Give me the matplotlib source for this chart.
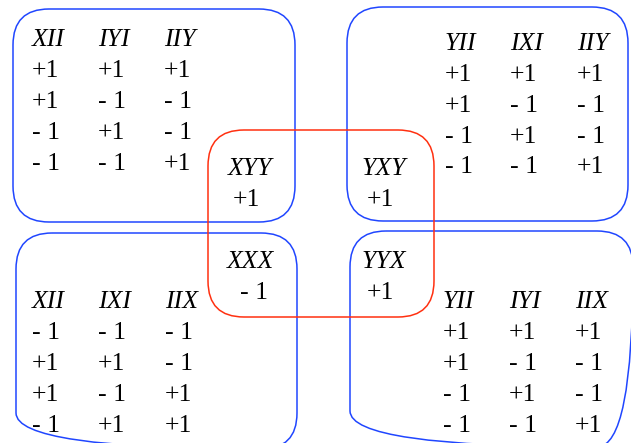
import matplotlib
matplotlib.use("Agg")
import matplotlib.pyplot as plt
from matplotlib.patches import FancyBboxPatch

# ---- data ----
tl_headers = ["XII", "IYI", "IIY"]
tl_values = [[+1, +1, +1], [+1, -1, -1], [-1, +1, -1], [-1, -1, +1]]
tr_headers = ["YII", "IXI", "IIY"]
tr_values = [[+1, +1, +1], [+1, -1, -1], [-1, +1, -1], [-1, -1, +1]]
bl_headers = ["XII", "IXI", "IIX"]
bl_values = [[-1, -1, -1], [+1, +1, -1], [+1, -1, +1], [-1, +1, +1]]
br_headers = ["YII", "IYI", "IIX"]
br_values = [[+1, +1, +1], [+1, -1, -1], [-1, +1, -1], [-1, -1, +1]]
center_ops = ["XYY", "YXY", "XXX", "YYX"]
center_vals = [+1, +1, -1, +1]

W, H = 631, 443
fig = plt.figure(figsize=(W / 100, H / 100), dpi=100)
ax = fig.add_axes([0, 0, 1, 1])
ax.set_xlim(0, W)
ax.set_ylim(H, 0)
ax.axis("off")

BLUE = "#2046ff"
RED = "#ff3010"
FONT = "Liberation Serif"
FS = 18.5


def fmt(v):
    return "+1" if v > 0 else "- 1"


def box(x0, y0, x1, y1, color):
    p = FancyBboxPatch((x0, y0), x1 - x0, y1 - y0,
                       boxstyle="round,pad=0,rounding_size=36",
                       fill=False, edgecolor=color, linewidth=1.1,
                       clip_on=True)
    ax.add_patch(p)


box(13, 9, 295, 222, BLUE)
box(347, 7, 628, 221, BLUE)
box(16, 233, 297, 449, BLUE)
box(350, 231, 633, 447, BLUE)
box(208, 130, 434, 317, RED)


def table(headers, values, xs, ys):
    for j, h in enumerate(headers):
        ax.text(xs[j], ys[0], h, fontsize=FS, family=FONT, style="italic",
                ha="left", va="baseline")
    for i, row in enumerate(values):
        for j, v in enumerate(row):
            ax.text(xs[j], ys[i + 1], fmt(v), fontsize=FS, family=FONT,
                    ha="left", va="baseline")


table(tl_headers, tl_values, [32, 98, 164], [46, 77, 108, 139, 170])
table(tr_headers, tr_values, [445, 510, 577], [50, 81, 112, 143, 173])
table(bl_headers, bl_values, [32, 98, 165], [308, 339, 370, 401, 432])
table(br_headers, br_values, [443, 509, 575], [308, 339, 370, 401, 432])

center_pos = [(228, 233, 175), (362, 367, 175), (227, 240, 268), (362, 367, 268)]
for op, v, (xo, xv, yb) in zip(center_ops, center_vals, center_pos):
    ax.text(xo, yb, op, fontsize=FS, family=FONT, style="italic",
            ha="left", va="baseline")
    ax.text(xv, yb + 31, fmt(v), fontsize=FS, family=FONT,
            ha="left", va="baseline")

fig.savefig("out.png", dpi=100)
